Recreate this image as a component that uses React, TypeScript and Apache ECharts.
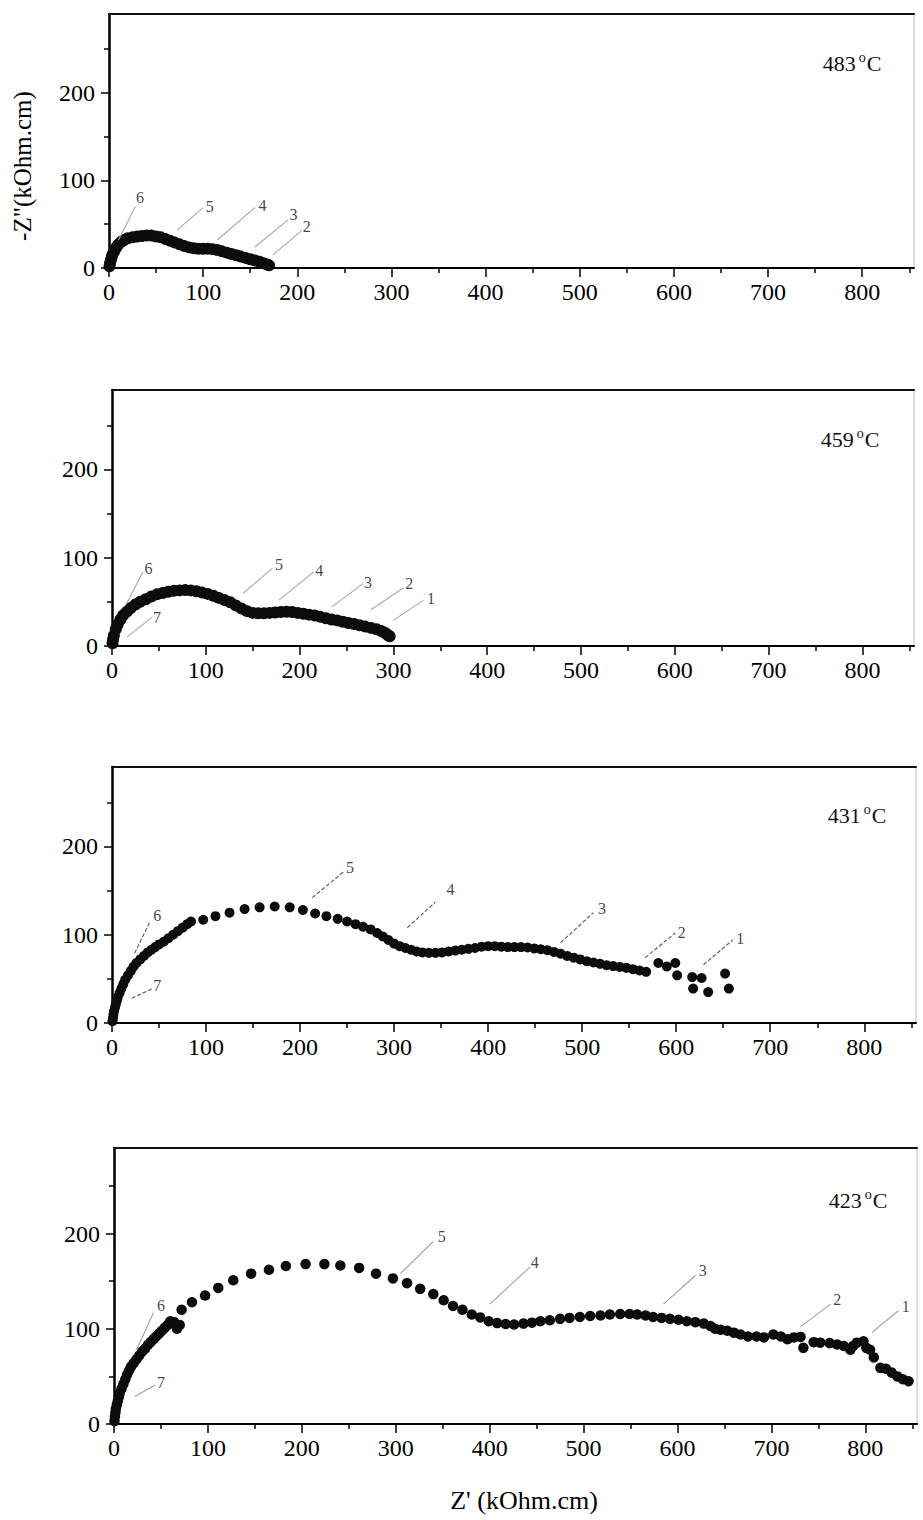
import React, { useEffect, useRef } from "react";
import * as echarts from "echarts";

// Impedance spectra (Nyquist plots) at four temperatures: [Z', -Z''] in kOhm.cm
const z483: number[][] = [
  [0.5, 2], [1, 5], [2, 9], [3, 13], [4, 16], [6, 20], [8, 24], [10, 27], [13, 30], [16, 32],
  [20, 34], [25, 35], [30, 36], [35, 36.5], [40, 37], [45, 37], [50, 36], [55, 35], [60, 33],
  [65, 31], [70, 29], [75, 27], [80, 25], [85, 23.5], [90, 22.5], [95, 22], [100, 22], [105, 22],
  [110, 21.5], [115, 20.5], [120, 19], [125, 17.5], [130, 16], [135, 14.5], [140, 13], [145, 11.5],
  [150, 10], [155, 8.5], [160, 7], [164, 5.5], [168, 4], [170, 3],
];

const z459: number[][] = [
  [0.5, 3], [1, 7], [2, 12], [4, 19], [6, 24], [9, 30], [12, 35], [16, 39], [20, 43], [25, 47],
  [30, 50], [36, 53], [42, 56], [48, 58.5], [54, 60], [60, 61.5], [66, 62.5], [72, 63], [78, 63.3],
  [84, 63], [90, 62], [96, 60.5], [102, 59], [108, 57], [114, 54.5], [120, 52], [126, 49.5],
  [132, 46], [138, 42.5], [144, 39.5], [150, 37.5], [156, 37], [162, 37], [168, 37.5], [174, 38],
  [180, 38.5], [186, 38.8], [192, 38.5], [198, 37.5], [204, 36.5], [210, 35.5], [216, 34.5],
  [222, 33], [228, 31.5], [234, 30], [240, 29], [246, 27.5], [252, 26], [258, 25], [264, 23.5],
  [270, 22], [276, 20.5], [282, 19], [287, 17], [291, 15], [294, 12.5], [296, 11],
];

const z431: number[][] = [
  [0.5, 2], [1, 5], [1.5, 9], [2, 13], [3, 17], [4, 21], [5, 25], [6, 29], [8, 34], [10, 39],
  [12, 44], [14, 49], [17, 54], [20, 59], [23, 64], [26, 68], [30, 72], [34, 76], [38, 80],
  [42, 83], [46, 86], [50, 89], [55, 92], [60, 96], [65, 100], [70, 104], [75, 108], [80, 112],
  [84, 115], [97, 117], [110, 121], [125, 125], [141, 129], [157, 131], [173, 132], [189, 131],
  [203, 128], [216, 124], [228, 121], [240, 118], [250, 115], [259, 112], [267, 109], [275, 106],
  [282, 102], [288, 98], [294, 94], [300, 90], [306, 87], [312, 85], [318, 83], [324, 81],
  [330, 80], [337, 79.5], [344, 79.5], [351, 80], [358, 81], [365, 82], [372, 83], [379, 84],
  [386, 85], [393, 86.5], [400, 87], [407, 87], [414, 86.5], [421, 86], [428, 86], [435, 86],
  [442, 85.5], [449, 84.5], [456, 83.5], [463, 82.5], [470, 80.5], [477, 78.5], [484, 76],
  [491, 74], [498, 72], [505, 70], [512, 68.5], [519, 67], [526, 65.5], [533, 64.5], [540, 63.5],
  [547, 62.5], [554, 61], [561, 59.5], [568, 58], [581, 68], [590, 64], [599, 68], [601, 54],
  [617, 52], [618, 39], [627, 51], [634, 35], [652, 56], [656, 39],
];

const z423: number[][] = [
  [0.5, 3], [1, 8], [1.5, 12], [2, 16], [3, 20], [4, 24], [5, 28], [6, 32], [8, 37], [10, 42],
  [12, 47], [14, 52], [16, 56], [18, 60], [21, 64], [24, 68], [27, 72], [30, 76], [33, 79],
  [36, 83], [39, 86], [42, 89], [45, 92], [48, 95], [51, 98], [54, 101], [57, 104], [60, 108],
  [64, 107], [67, 100], [70, 104], [72, 120], [83, 128], [97, 135], [111, 143], [127, 151],
  [146, 158], [165, 162], [183, 166], [204, 168], [224, 168], [241, 166.5], [261, 164], [279, 158],
  [297, 153], [312, 148], [326, 142], [340, 136.5], [351, 130], [361, 124], [371, 120], [381, 115],
  [390, 112], [399, 108], [408, 106], [417, 105], [426, 104.5], [436, 105.5], [445, 106.5],
  [454, 108], [464, 109], [475, 110.5], [485, 111.5], [496, 112.5], [507, 113.5], [518, 114],
  [528, 115], [539, 115.5], [549, 115.5], [557, 115], [566, 114], [574, 112.5], [583, 111.5],
  [592, 110.5], [601, 109.5], [610, 108], [619, 107], [628, 105.5], [635, 103], [640, 100],
  [646, 99], [653, 98], [660, 96], [667, 94], [675, 92], [684, 92], [692, 91], [702, 94],
  [710, 92], [717, 89], [724, 91], [731, 91.5], [734, 80], [745, 86], [752, 85.5], [762, 85],
  [770, 83.5], [777, 82], [784, 78], [787, 82], [791, 85.5], [798, 87], [801, 80], [805, 78],
  [809, 70], [816, 59], [822, 58], [828, 54], [834, 50], [840, 47], [846, 45],
];

// Numbered leader lines: from -> to in data units, number centred at "at"
type Leader = { n: string; from: number[]; to: number[]; at: number[] };

const lead483: Leader[] = [
  { n: "6", from: [10, 32], to: [28, 70], at: [33, 81] },
  { n: "5", from: [72, 43], to: [100, 69], at: [107, 70] },
  { n: "4", from: [115, 32], to: [155, 69], at: [163, 71] },
  { n: "3", from: [155, 24], to: [190, 55], at: [196, 61] },
  { n: "2", from: [174, 15], to: [205, 43], at: [210, 47] },
];

const lead459: Leader[] = [
  { n: "6", from: [16, 49], to: [33, 84], at: [39, 88] },
  { n: "7", from: [16, 10], to: [43, 33], at: [48, 32] },
  { n: "5", from: [140, 60], to: [171, 88], at: [178, 92] },
  { n: "4", from: [178, 52], to: [215, 84], at: [221, 86] },
  { n: "3", from: [234, 44], to: [268, 71], at: [273, 72] },
  { n: "2", from: [276, 41], to: [311, 66], at: [317, 71] },
  { n: "1", from: [300, 29], to: [332, 52], at: [340, 54] },
];

const lead431: Leader[] = [
  { n: "6", from: [24, 79], to: [40, 114], at: [48, 122] },
  { n: "7", from: [21, 28], to: [43, 39], at: [48, 43] },
  { n: "5", from: [213, 142], to: [246, 171], at: [253, 176] },
  { n: "4", from: [314, 108], to: [344, 137], at: [360, 151] },
  { n: "3", from: [477, 91], to: [512, 125], at: [521, 130] },
  { n: "2", from: [567, 74], to: [599, 102], at: [606, 103] },
  { n: "1", from: [629, 66], to: [660, 94], at: [668, 96] },
];

const lead423: Leader[] = [
  { n: "6", from: [24, 78], to: [42, 117], at: [50, 124] },
  { n: "7", from: [22, 29], to: [44, 41], at: [50, 44] },
  { n: "5", from: [305, 158], to: [340, 192], at: [349, 197] },
  { n: "4", from: [400, 126], to: [443, 165], at: [448, 170] },
  { n: "3", from: [585, 126], to: [619, 156], at: [627, 161] },
  { n: "2", from: [731, 102], to: [763, 126], at: [770, 131] },
  { n: "1", from: [807, 96], to: [835, 119], at: [843, 123] },
];

const temperatures = ["483", "459", "431", "423"];
const xTicks = [0, 100, 200, 300, 400, 500, 600, 700, 800];
const xMinorTicks = [50, 150, 250, 350, 450, 550, 650, 750, 850];
const yTicks = [0, 100, 200];
const yMinorTicks = [50, 150, 250];
const X_MAX = 855;
const Y_MAX = 290;

const FONT = '"Liberation Serif", "DejaVu Serif", "Times New Roman", serif';

const panels = [
  { data: z483, leaders: lead483, size: 12, lead: { color: "#a8a8a8", type: "solid" as const } },
  { data: z459, leaders: lead459, size: 12, lead: { color: "#a8a8a8", type: "solid" as const } },
  { data: z431, leaders: lead431, size: 10, lead: { color: "#555", type: [4, 2] as any } },
  { data: z423, leaders: lead423, size: 10.5, lead: { color: "#a0a0a0", type: "solid" as const } },
];

// Plot frames in pixels: left, top, width, height
const frames = [
  { left: 109, top: 14, width: 805, height: 254 },
  { left: 112, top: 390, width: 802, height: 256 },
  { left: 112, top: 767, width: 804, height: 256 },
  { left: 114, top: 1148, width: 803, height: 276 },
];

const tempPos = [
  { x: 852, y: 62 },
  { x: 850, y: 438 },
  { x: 857, y: 814 },
  { x: 858, y: 1199 },
];

function buildOption() {
  const grid: any[] = [];
  const xAxis: any[] = [];
  const yAxis: any[] = [];
  const series: any[] = [];
  const graphic: any[] = [];

  frames.forEach((f, i) => {
    grid.push({ left: f.left, top: f.top, width: f.width, height: f.height, containLabel: false });

    // main bottom axis
    xAxis.push({
      gridIndex: i, type: "value", min: 0, max: X_MAX, interval: 100, position: "bottom",
      axisLine: { show: true, onZero: false, lineStyle: { color: "#000", width: 2 } },
      axisTick: { show: true, length: 9, customValues: xTicks, lineStyle: { color: "#000", width: 1.5 } },
      axisLabel: {
        show: true, customValues: xTicks, margin: 12, fontSize: 24, fontFamily: FONT, color: "#000",
        formatter: (v: number) => (v % 100 === 0 ? String(v) : ""),
      },
      splitLine: { show: false },
    });
    // minor ticks
    xAxis.push({
      gridIndex: i, type: "value", min: 0, max: X_MAX, interval: 50, position: "bottom",
      axisLine: { show: false },
      axisTick: { show: true, length: 5, customValues: xMinorTicks, lineStyle: { color: "#000", width: 1.5 } },
      axisLabel: { show: false },
      splitLine: { show: false },
    });
    // top frame
    xAxis.push({
      gridIndex: i, type: "value", min: 0, max: X_MAX, position: "top",
      axisLine: { show: true, onZero: false, lineStyle: { color: "#111", width: 2 } },
      axisTick: { show: false }, axisLabel: { show: false }, splitLine: { show: false },
    });

    yAxis.push({
      gridIndex: i, type: "value", min: 0, max: Y_MAX, interval: 100, position: "left",
      axisLine: { show: true, onZero: false, lineStyle: { color: "#000", width: 2.5 } },
      axisTick: { show: true, length: 8, customValues: yTicks, lineStyle: { color: "#000", width: 1.5 } },
      axisLabel: {
        show: true, customValues: yTicks, margin: 14, fontSize: 24, fontFamily: FONT, color: "#000",
        formatter: (v: number) => (v % 100 === 0 && v <= 200 ? String(v) : ""),
      },
      splitLine: { show: false },
    });
    yAxis.push({
      gridIndex: i, type: "value", min: 0, max: Y_MAX, interval: 50, position: "left",
      axisLine: { show: false },
      axisTick: { show: true, length: 5, customValues: yMinorTicks, lineStyle: { color: "#000", width: 1.5 } },
      axisLabel: { show: false }, splitLine: { show: false },
    });
    yAxis.push({
      gridIndex: i, type: "value", min: 0, max: Y_MAX, position: "right",
      axisLine: { show: true, onZero: false, lineStyle: { color: "#d4d4d4", width: 1.5 } },
      axisTick: { show: false }, axisLabel: { show: false }, splitLine: { show: false },
    });

    const p = panels[i];
    series.push({
      type: "scatter",
      xAxisIndex: i * 3,
      yAxisIndex: i * 3,
      data: p.data,
      symbol: "circle",
      symbolSize: p.size,
      itemStyle: { color: "#0c0c0c", opacity: 1 },
      z: 3,
      markLine: {
        silent: true,
        symbol: ["none", "none"],
        label: { show: false },
        lineStyle: { color: p.lead.color, width: 1.1, type: p.lead.type, opacity: 1 },
        emphasis: { disabled: true },
        data: p.leaders.map((l) => [{ coord: l.from }, { coord: l.to }]),
      },
    });
    series.push({
      type: "scatter",
      xAxisIndex: i * 3,
      yAxisIndex: i * 3,
      symbolSize: 0,
      silent: true,
      data: p.leaders.map((l) => ({ name: l.n, value: l.at })),
      label: {
        show: true, position: "inside", formatter: "{b}",
        fontSize: 16, fontFamily: FONT, color: "#111",
      },
      z: 4,
    });

    graphic.push({
      type: "text",
      x: tempPos[i].x,
      y: tempPos[i].y,
      style: {
        text: `{n|${temperatures[i]}}{s|o}{n|C}`,
        align: "center",
        verticalAlign: "middle",
        rich: {
          n: { fontSize: 22, fontFamily: FONT, fill: "#111", verticalAlign: "bottom" },
          s: { fontSize: 14, fontFamily: FONT, fill: "#111", verticalAlign: "top", padding: [0, 1, 10, 3] },
        },
      },
    });
  });

  graphic.push({
    type: "text",
    x: 22,
    y: 166,
    rotation: Math.PI / 2,
    style: {
      text: '-Z"(kOhm.cm)',
      align: "center",
      verticalAlign: "middle",
      fontSize: 25,
      fontFamily: FONT,
      fill: "#000",
    },
  });
  graphic.push({
    type: "text",
    x: 524,
    y: 1500,
    style: {
      text: "Z' (kOhm.cm)",
      align: "center",
      verticalAlign: "middle",
      fontSize: 26,
      fontFamily: FONT,
      fill: "#000",
    },
  });

  return {
    animation: false,
    backgroundColor: "#fff",
    grid,
    xAxis,
    yAxis,
    series,
    graphic,
  };
}

export default function App() {
  const ref = useRef<HTMLDivElement>(null);
  useEffect(() => {
    if (!ref.current) return;
    const chart = echarts.init(ref.current, null, { renderer: "svg" });
    chart.setOption(buildOption() as any);
    return () => chart.dispose();
  }, []);
  return (
    <div
      ref={ref}
      style={{ position: "absolute", left: 0, top: 0, width: 923, height: 1520, background: "#fff" }}
    />
  );
}
